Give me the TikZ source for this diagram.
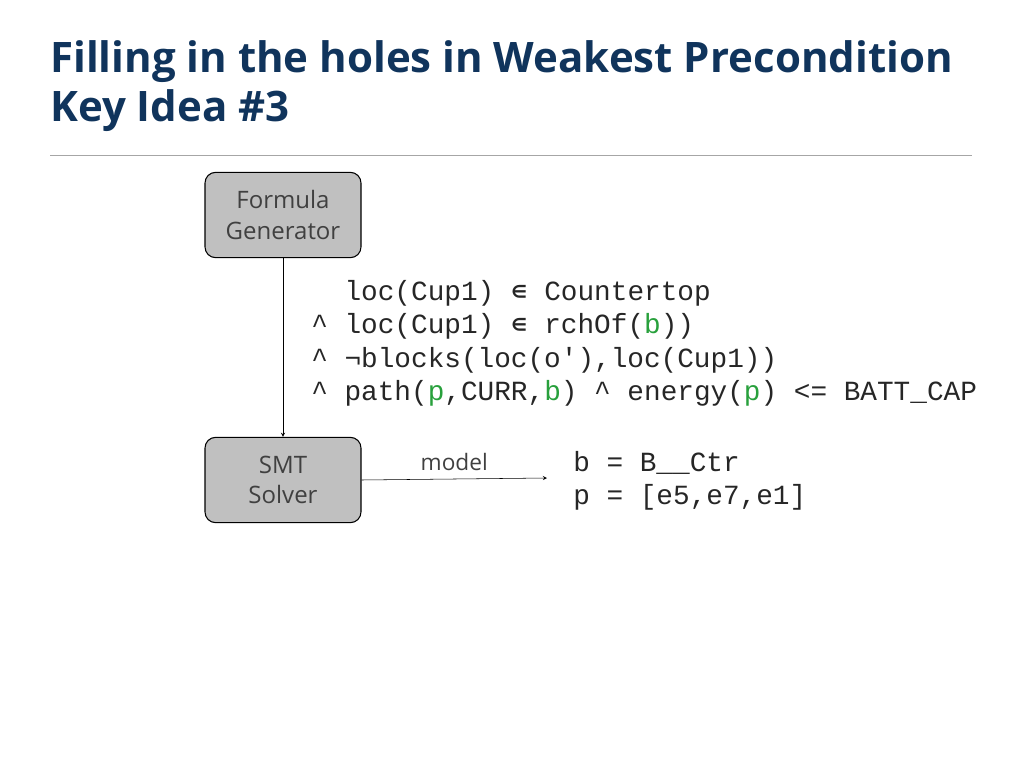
\documentclass[tikz,border=0pt]{standalone}
\usepackage{fontspec}
\setmainfont{Open Sans}
\setmonofont{Liberation Mono}
\newfontfamily\symmono{DejaVu Sans Mono}
\usetikzlibrary{positioning}
\definecolor{titleblue}{RGB}{16,52,92}
\definecolor{boxgray}{RGB}{192,192,192}
\definecolor{textgray}{RGB}{64,64,64}
\definecolor{vargreen}{RGB}{40,160,60}
\newcommand{\gv}[1]{\textcolor{vargreen}{#1}}
\newcommand{\elemof}{{\symmono ∊}}
\tikzset{
  block/.style={draw,thick,rounded corners=8pt,fill=boxgray,text=textgray,
    minimum width=117pt,minimum height=64pt,align=center,font=\fontsize{18}{23}\selectfont},
  code/.style={anchor=base west,font=\ttfamily\fontsize{20.8}{25}\selectfont,inner sep=0pt,text=black!85},
  heading/.style={anchor=base west,inner sep=0pt,text=titleblue,font=\bfseries\fontsize{31.5}{37}\selectfont},
  >=stealth
}
\begin{document}
\begin{tikzpicture}[x=0.75pt,y=-0.75pt]
  \useasboundingbox (0,0) rectangle (1024,767);

  \node[heading] (title1) at (50,73) {Filling in the holes in Weakest Precondition};
  \node[heading] (title2) at (50,122) {Key Idea \#3};
  \coordinate (rl) at (50,155);
  \coordinate (rr) at (972,155);
  \draw[black!35] (rl) -- (rr);

  \node[block] (gen) at (283,215) {Formula\\Generator};
  \node[block] (smt) at (283,480) {SMT\\Solver};

  \node[code] (l1) at (311,300) {\ \ loc(Cup1) \elemof{} Countertop};
  \node[code] (l2) at (311,333) {\^{} loc(Cup1) \elemof{} rchOf(\gv{b}))};
  \node[code] (l3) at (311,367) {\^{} ¬blocks(loc(o'),loc(Cup1))};
  \node[code] (l4) at (311,400) {\^{} path(\gv{p},CURR,\gv{b}) \^{} energy(\gv{p}) <= BATT\_CAP};

  \node[code] (m1) at (573,471) {b = B\_\_Ctr};
  \node[code] (m2) at (573,504) {p = [e5,e7,e1]};
  \coordinate (mend) at (547,478);

  \draw[->] (gen) -- (smt);
  \draw[->] (smt.east) -- node[above=3pt,text=textgray,font=\fontsize{17}{20}\selectfont] {model} (mend);
\end{tikzpicture}
\end{document}
